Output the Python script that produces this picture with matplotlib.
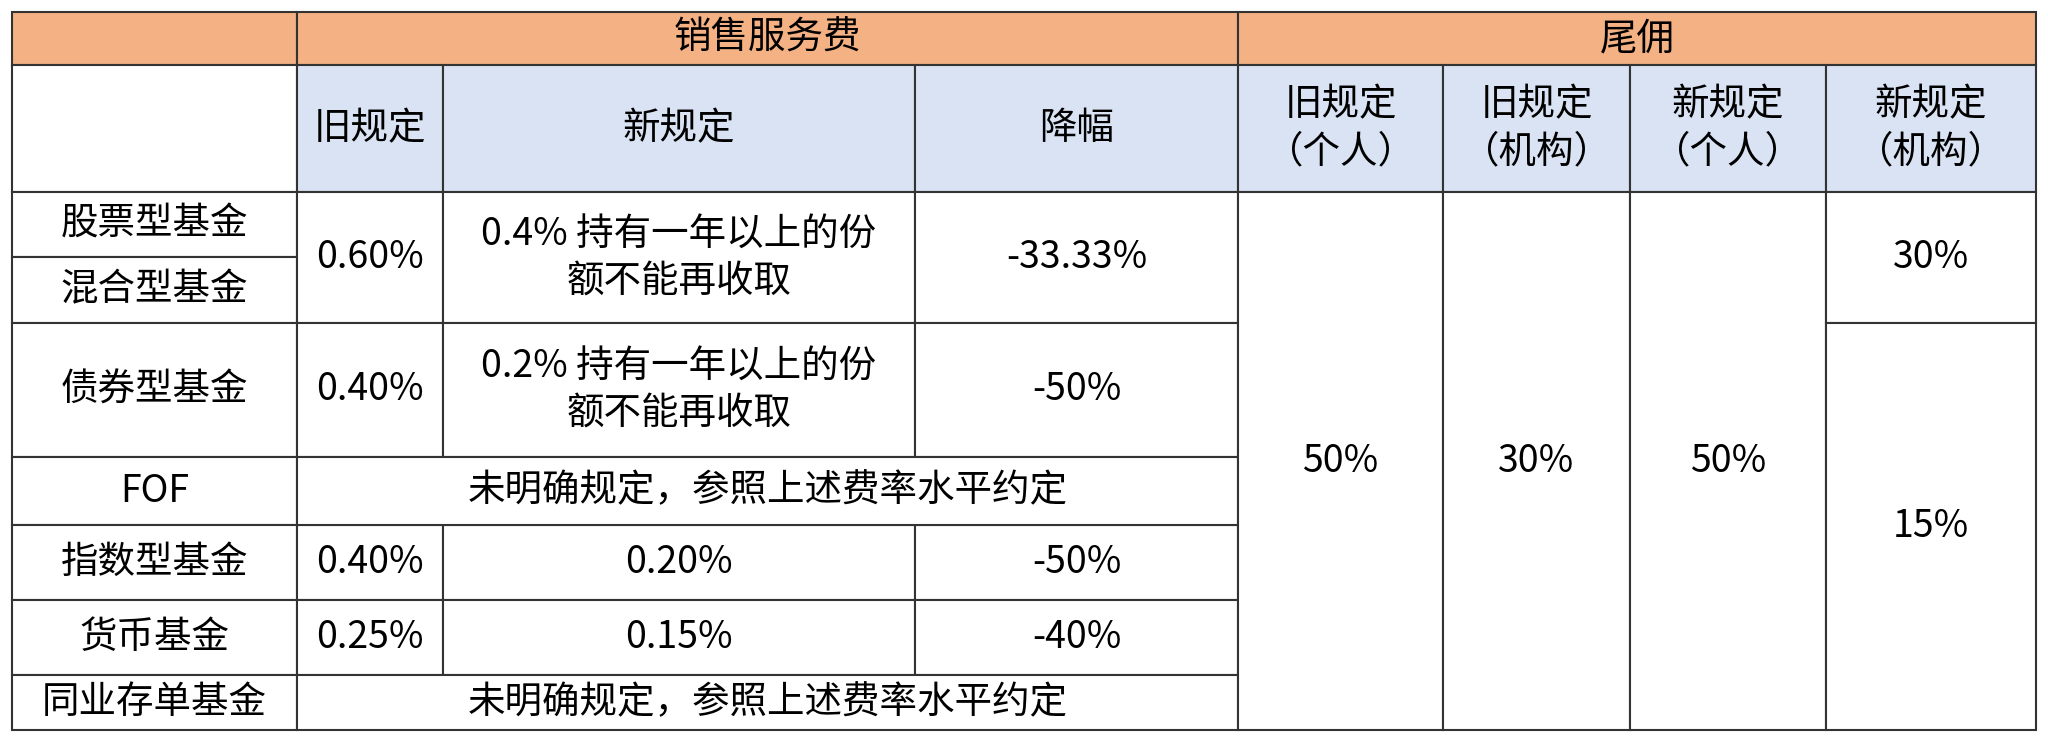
import matplotlib.pyplot as plt
from matplotlib.patches import Rectangle

plt.rcParams['font.family'] = 'Noto Sans CJK SC'

# data
groups = ['销售服务费', '尾佣']
sub_headers = ['旧规定', '新规定', '降幅']
tail_headers = ['旧规定\n（个人）', '旧规定\n（机构）', '新规定\n（个人）', '新规定\n（机构）']
fund_types = ['股票型基金', '混合型基金', '债券型基金', 'FOF', '指数型基金', '货币基金', '同业存单基金']
old_fee = ['0.60%', '0.40%', '0.40%', '0.25%']
new_fee = ['0.4% 持有一年以上的份\n额不能再收取', '0.2% 持有一年以上的份\n额不能再收取', '0.20%', '0.15%']
cut = ['-33.33%', '-50%', '-50%', '-40%']
unclear = '未明确规定，参照上述费率水平约定'
tail_vals = ['50%', '30%', '50%']
tail_inst_new = ['30%', '15%']

# layout (pixels)
xs = [12, 297, 443, 915, 1238, 1443, 1630, 1826, 2036]
ys = [12, 65, 192, 257, 323, 457, 525, 600, 675, 730]
ORANGE = '#F4B183'
BLUE = '#DAE3F3'
FS = 27

fig = plt.figure(figsize=(20.48, 7.41), dpi=100)
ax = fig.add_axes([0, 0, 1, 1])
ax.set_xlim(0, 2048)
ax.set_ylim(741, 0)
ax.axis('off')


def cell(c0, c1, r0, r1, text='', fc='white'):
    x0, x1, y0, y1 = xs[c0], xs[c1], ys[r0], ys[r1]
    ax.add_patch(Rectangle((x0, y0), x1 - x0, y1 - y0, facecolor=fc,
                           edgecolor='#333333', linewidth=1.5))
    if text:
        ax.text((x0 + x1) / 2, (y0 + y1) / 2, text, ha='center', va='center',
                fontsize=FS, linespacing=1.25)


# header rows
cell(0, 1, 0, 1, fc=ORANGE)
cell(1, 4, 0, 1, groups[0], ORANGE)
cell(4, 8, 0, 1, groups[1], ORANGE)
cell(0, 1, 1, 2)
for i, h in enumerate(sub_headers):
    cell(1 + i, 2 + i, 1, 2, h, BLUE)
for i, h in enumerate(tail_headers):
    cell(4 + i, 5 + i, 1, 2, h, BLUE)

# fund names
rows = [(2, 3), (3, 4), (4, 5), (5, 6), (6, 7), (7, 8), (8, 9)]
for f, (r0, r1) in zip(fund_types, rows):
    cell(0, 1, r0, r1, f)

# sales service fee body
fee_rows = [(2, 4), (4, 5), (6, 7), (7, 8)]
for (r0, r1), o, n, c in zip(fee_rows, old_fee, new_fee, cut):
    cell(1, 2, r0, r1, o)
    cell(2, 3, r0, r1, n)
    cell(3, 4, r0, r1, c)
cell(1, 4, 5, 6, unclear)
cell(1, 4, 8, 9, unclear)

# trailing commission
for i, v in enumerate(tail_vals):
    cell(4 + i, 5 + i, 2, 9, v)
cell(7, 8, 2, 4, tail_inst_new[0])
cell(7, 8, 4, 9, tail_inst_new[1])

fig.savefig('out.png', dpi=100)
